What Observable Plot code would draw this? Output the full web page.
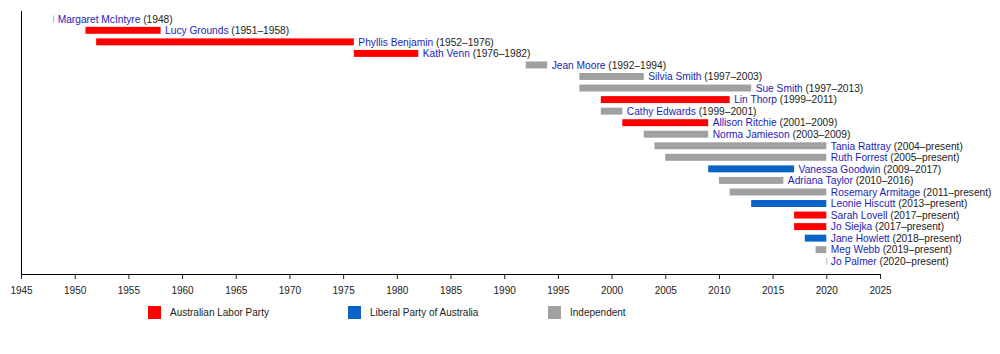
<!DOCTYPE html>
<html><head><meta charset="utf-8">
<script src="https://cdn.jsdelivr.net/npm/d3@7"></script>
<script src="https://cdn.jsdelivr.net/npm/@observablehq/plot@0.6"></script>
<style>
body{margin:0;background:#fff;font-family:"Liberation Sans",Arial,sans-serif;}
#legend{display:flex;margin-left:148px;margin-top:11px;font-size:10px;color:#222;}
.item{display:flex;align-items:center;width:200px;}
.sw{width:13px;height:13px;margin-right:9px;}
</style></head><body><div id="chart"></div><div id="legend"></div>
<script>
const names = ["Margaret McIntyre","Lucy Grounds","Phyllis Benjamin","Kath Venn","Jean Moore","Silvia Smith","Sue Smith","Lin Thorp","Cathy Edwards","Allison Ritchie","Norma Jamieson","Tania Rattray","Ruth Forrest","Vanessa Goodwin","Adriana Taylor","Rosemary Armitage","Leonie Hiscutt","Sarah Lovell","Jo Siejka","Jane Howlett","Meg Webb","Jo Palmer"];
const parties = ["Independent","Australian Labor Party","Australian Labor Party","Australian Labor Party","Independent","Independent","Independent","Australian Labor Party","Independent","Australian Labor Party","Independent","Independent","Independent","Liberal Party of Australia","Independent","Independent","Liberal Party of Australia","Australian Labor Party","Australian Labor Party","Liberal Party of Australia","Independent","Liberal Party of Australia"];
const starts = [1948,1951,1952,1976,1992,1997,1997,1999,1999,2001,2003,2004,2005,2009,2010,2011,2013,2017,2017,2018,2019,2020];
const ends   = [1948,1958,1976,1982,1994,2003,2013,2011,2001,2009,2009,2020,2020,2017,2016,2020,2020,2020,2020,2020,2020,2020];
const terms  = ["1948","1951–1958","1952–1976","1976–1982","1992–1994","1997–2003","1997–2013","1999–2011","1999–2001","2001–2009","2003–2009","2004–present","2005–present","2009–2017","2010–2016","2011–present","2013–present","2017–present","2017–present","2018–present","2019–present","2020–present"];
const partyNames = ["Australian Labor Party","Liberal Party of Australia","Independent"];
const partyColors = ["#ff0000","#0a64c8","#a0a0a0"];
const tickYears = [1945,1950,1955,1960,1965,1970,1975,1980,1985,1990,1995,2000,2005,2010,2015,2020,2025];

const rows = names.map((n,i)=>({name:n, party:parties[i], start:starts[i], end:ends[i], label:n+" ("+terms[i]+")"}));

const chart = Plot.plot({
  width: 1000, height: 295,
  marginLeft: 21, marginRight: 120, marginTop: 11, marginBottom: 21,
  insetTop: 2, insetBottom: 7,
  style: {fontFamily: '"Liberation Sans", Arial, sans-serif', fontSize: "10px", color: "#222", background: "#fff"},
  x: {domain: [1945, 2025], ticks: tickYears, tickFormat: d => String(d), tickSize: 5, tickPadding: 7, label: null},
  y: {domain: names, axis: null, padding: 0, round: false},
  color: {domain: partyNames, range: partyColors},
  marks: [
    Plot.barX(rows.filter(d => d.end > d.start), {x1: "start", x2: "end", y: "name", fill: "party", insetTop: 2.3, insetBottom: 2.3}),
    Plot.tickX(rows.filter(d => d.end === d.start), {x: "start", y: "name", stroke: "#b8b8b8", strokeWidth: 1, insetTop: 2.3, insetBottom: 2.3}),
    Plot.text(rows, {x: "end", y: "name", text: "label", dx: 4, textAnchor: "start", fontSize: 10.2, fill: "#222"}),
    Plot.frame({anchor: "left", stroke: "#000"}),
    Plot.frame({anchor: "bottom", stroke: "#000"})
  ]
});
document.getElementById("chart").appendChild(chart);

d3.select(chart).selectAll('g[aria-label="text"] text').each(function(){
  const t = this.textContent;
  const k = t.indexOf(" (");
  const sel = d3.select(this);
  sel.text(null);
  sel.append("tspan").attr("fill", "#1c1cb8").text(t.slice(0, k));
  sel.append("tspan").attr("fill", "#222").text(t.slice(k));
});

const legend = d3.select("#legend");
partyNames.forEach((p,i)=>{
  const it = legend.append("div").attr("class","item");
  it.append("div").attr("class","sw").style("background", partyColors[i]);
  it.append("span").text(p);
});
</script></body></html>
